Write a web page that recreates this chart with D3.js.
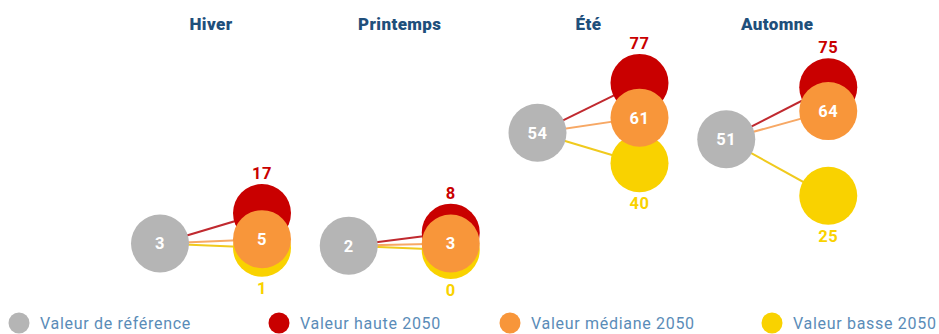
<!DOCTYPE html>
<html lang="fr">
<head>
<meta charset="utf-8">
<script src="https://cdn.jsdelivr.net/npm/d3@7"></script>
<style>
  html, body { margin: 0; padding: 0; background: #fff; }
  svg { display: block; font-family: Roboto, "Noto Sans", sans-serif; }
</style>
</head>
<body>
<svg id="chart" width="939" height="334"></svg>
<script>
// Saisons et valeurs (nombre de jours)
const seasons   = ["Hiver", "Printemps", "Été", "Automne"];
const reference = [3, 2, 54, 51];
const high      = [17, 8, 77, 75];
const median    = [5, 3, 61, 64];
const low       = [1, 0, 40, 25];

const legendLabels = ["Valeur de référence", "Valeur haute 2050", "Valeur médiane 2050", "Valeur basse 2050"];

const colors = {
  ref: "#b5b5b5",
  high: "#c90000",
  median: "#f8963a",
  low: "#f9d200"
};
const lineColors = {
  high: "#c0292f",
  median: "#f7a865",
  low: "#f0ca1e"
};

const svg = d3.select("#chart");
const R = 29;

const x = d3.scaleBand().domain(seasons).range([115, 870]).padding(0);
const y = d3.scaleLinear().domain([0, 80]).range([250, 76.4]);

const refX = s => x(s) + 45;
const projX = s => x(s) + 147;

const rows = seasons.map((s, i) => ({
  season: s, ref: reference[i], high: high[i], median: median[i], low: low[i]
}));

const g = svg.selectAll("g.season").data(rows).join("g").attr("class", "season");

// Titres des saisons
g.append("text")
  .attr("x", d => (refX(d.season) + projX(d.season)) / 2)
  .attr("y", 30)
  .attr("text-anchor", "middle")
  .attr("font-size", 17)
  .attr("font-weight", 900)
  .attr("letter-spacing", 0.4)
  .attr("fill", "#1f4f7b")
  .text(d => d.season);

// Liaisons référence -> projections
["low", "median", "high"].forEach(k => {
  g.append("line")
    .attr("x1", d => refX(d.season))
    .attr("y1", d => y(d.ref))
    .attr("x2", d => projX(d.season))
    .attr("y2", d => y(d[k]))
    .attr("stroke", lineColors[k])
    .attr("stroke-width", 2);
});

// Cercle de référence
g.append("circle")
  .attr("cx", d => refX(d.season))
  .attr("cy", d => y(d.ref))
  .attr("r", R)
  .attr("fill", colors.ref);

const valueText = sel => sel
  .attr("text-anchor", "middle")
  .attr("font-size", 16.5)
  .attr("font-weight", 700)
  .attr("letter-spacing", 0.5);

g.append("text")
  .call(valueText)
  .attr("x", d => refX(d.season))
  .attr("y", d => y(d.ref) + 6)
  .attr("fill", "#fff")
  .text(d => d.ref);

// Projections 2050
["high", "low", "median"].forEach(k => {
  g.append("circle")
    .attr("cx", d => projX(d.season))
    .attr("cy", d => y(d[k]))
    .attr("r", R)
    .attr("fill", colors[k]);
});

g.append("text")
  .call(valueText)
  .attr("x", d => projX(d.season))
  .attr("y", d => y(d.median) + 6)
  .attr("fill", "#fff")
  .text(d => d.median);

g.append("text")
  .call(valueText)
  .attr("x", d => projX(d.season))
  .attr("y", d => y(d.high) - R - 5)
  .attr("fill", colors.high)
  .text(d => d.high);

g.append("text")
  .call(valueText)
  .attr("x", d => projX(d.season))
  .attr("y", d => y(d.low) + R + 17)
  .attr("fill", colors.low)
  .text(d => d.low);

// Légende
const legendColors = [colors.ref, colors.high, colors.median, colors.low];
const legendX = [19, 279, 510, 772];
const lg = svg.selectAll("g.legend").data(legendLabels).join("g")
  .attr("class", "legend")
  .attr("transform", (d, i) => `translate(${legendX[i]},323)`);
lg.append("circle").attr("r", 10.5).attr("fill", (d, i) => legendColors[i]);
lg.append("text")
  .attr("x", 21)
  .attr("y", 5.5)
  .attr("font-size", 16)
  .attr("letter-spacing", 0.7)
  .attr("fill", "#5a8cb8")
  .text(d => d);
</script>
</body>
</html>
